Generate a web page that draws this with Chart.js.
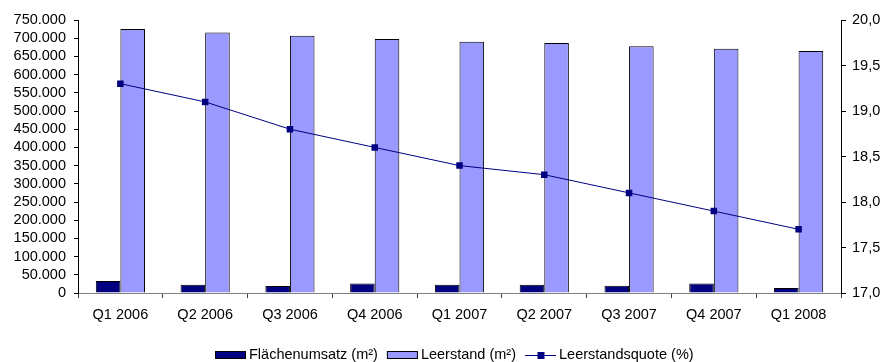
<!DOCTYPE html>
<html>
<head>
<meta charset="utf-8">
<script src="https://cdn.jsdelivr.net/npm/chart.js@4/dist/chart.umd.min.js"></script>
<style>
  html, body { margin: 0; padding: 0; background: #fff; }
  #wrap { width: 893px; height: 362px; }
</style>
</head>
<body>
<div id="wrap"><canvas id="c" width="893" height="362"></canvas></div>
<script>
// Quarterly office market figures
const quarters = ['Q1 2006', 'Q2 2006', 'Q3 2006', 'Q4 2006', 'Q1 2007', 'Q2 2007', 'Q3 2007', 'Q4 2007', 'Q1 2008'];
const flaechenumsatz = [33000, 23000, 19000, 26000, 23000, 23000, 20000, 26000, 14000];
const leerstand = [725000, 716000, 707000, 698000, 690000, 687000, 678000, 671000, 665000];
const leerstandsquote = [19.3, 19.1, 18.8, 18.6, 18.4, 18.3, 18.1, 17.9, 17.7];

const seriesNames = ['Flächenumsatz (m²)', 'Leerstand (m²)', 'Leerstandsquote (%)'];

const FONT = '"Liberation Sans", Arial, sans-serif';
const NAVY = '#000080';
const LILAC = '#9999FF';

// Bottom legend: filled boxes for the bars, line with square marker for the rate
const bottomLegend = {
  id: 'bottomLegend',
  afterDraw(chart) {
    const ctx = chart.ctx;
    ctx.save();
    ctx.font = '14.5px ' + FONT;
    ctx.textBaseline = 'middle';
    const y = 355;
    const boxW = 31, boxH = 8, gapText = 3, gapItem = 9;
    const items = chart.data.datasets.map(ds => ({ ds, w: ctx.measureText(ds.label).width }));
    let total = 0;
    items.forEach((it, i) => { total += boxW + gapText + it.w + (i < items.length - 1 ? gapItem : 0); });
    let x = Math.round((chart.width - total) / 2) + 8;
    items.forEach(it => {
      const ds = it.ds;
      if (ds.type === 'line') {
        ctx.strokeStyle = ds.borderColor;
        ctx.lineWidth = 1;
        ctx.beginPath();
        ctx.moveTo(x, y + 0.5);
        ctx.lineTo(x + boxW, y + 0.5);
        ctx.stroke();
        ctx.fillStyle = ds.pointBackgroundColor;
        ctx.fillRect(x + boxW / 2 - 3, y - 3, 7, 7);
      } else {
        ctx.fillStyle = ds.backgroundColor;
        ctx.fillRect(x, y - boxH / 2, boxW, boxH);
        ctx.strokeStyle = '#000';
        ctx.lineWidth = 1;
        ctx.strokeRect(x + 0.5, y - boxH / 2 + 0.5, boxW - 1, boxH - 1);
      }
      x += boxW + gapText;
      ctx.fillStyle = '#000';
      ctx.textAlign = 'left';
      ctx.fillText(ds.label, x, y);
      x += it.w + gapItem;
    });
    ctx.restore();
  }
};

new Chart(document.getElementById('c'), {
  data: {
    labels: quarters,
    datasets: [
      {
        type: 'bar',
        label: seriesNames[0],
        data: flaechenumsatz,
        yAxisID: 'yLeft',
        backgroundColor: NAVY,
        borderColor: '#000',
        borderWidth: 1,
        order: 2,
        categoryPercentage: 0.58,
        barPercentage: 1.0
      },
      {
        type: 'bar',
        label: seriesNames[1],
        data: leerstand,
        yAxisID: 'yLeft',
        backgroundColor: LILAC,
        borderColor: '#000',
        borderWidth: 1,
        order: 2,
        categoryPercentage: 0.58,
        barPercentage: 1.0
      },
      {
        type: 'line',
        label: seriesNames[2],
        data: leerstandsquote,
        yAxisID: 'yRight',
        borderColor: NAVY,
        borderWidth: 1,
        pointStyle: 'rect',
        pointRadius: 4.6,
        pointBackgroundColor: NAVY,
        pointBorderColor: NAVY,
        pointBorderWidth: 0,
        tension: 0,
        order: 1
      }
    ]
  },
  options: {
    responsive: false,
    animation: false,
    locale: 'de-DE',
    layout: { padding: { top: 20, left: 0, right: 0, bottom: 0 } },
    plugins: {
      legend: { display: false },
      tooltip: { enabled: false }
    },
    scales: {
      x: {
        type: 'category',
        offset: true,
        border: { color: '#808080', width: 1 },
        grid: { offset: true, drawOnChartArea: false, drawTicks: true, tickLength: 5, color: '#404040' },
        ticks: { color: '#000', font: { family: FONT, size: 14.5 }, padding: 8, maxRotation: 0, autoSkip: false },
        afterFit(scale) { scale.height = 69; }
      },
      yLeft: {
        type: 'linear',
        position: 'left',
        min: 0,
        max: 750000,
        border: { color: '#000', width: 1 },
        grid: { drawOnChartArea: false, drawTicks: true, tickLength: 4, color: '#000' },
        ticks: {
          stepSize: 50000,
          autoSkip: false,
          color: '#000',
          padding: 8,
          font: { family: FONT, size: 14.5 },
          callback: v => v.toLocaleString('de-DE')
        },
        afterFit(scale) { scale.width = 78; }
      },
      yRight: {
        type: 'linear',
        position: 'right',
        min: 17,
        max: 20,
        border: { color: '#000', width: 1 },
        grid: { drawOnChartArea: false, drawTicks: true, tickLength: 5, color: '#000' },
        ticks: {
          stepSize: 0.5,
          autoSkip: false,
          color: '#000',
          padding: 6,
          font: { family: FONT, size: 14.5 },
          callback: v => v.toFixed(1).replace('.', ',')
        },
        afterFit(scale) { scale.width = 52; }
      }
    }
  },
  plugins: [bottomLegend]
});
</script>
</body>
</html>
